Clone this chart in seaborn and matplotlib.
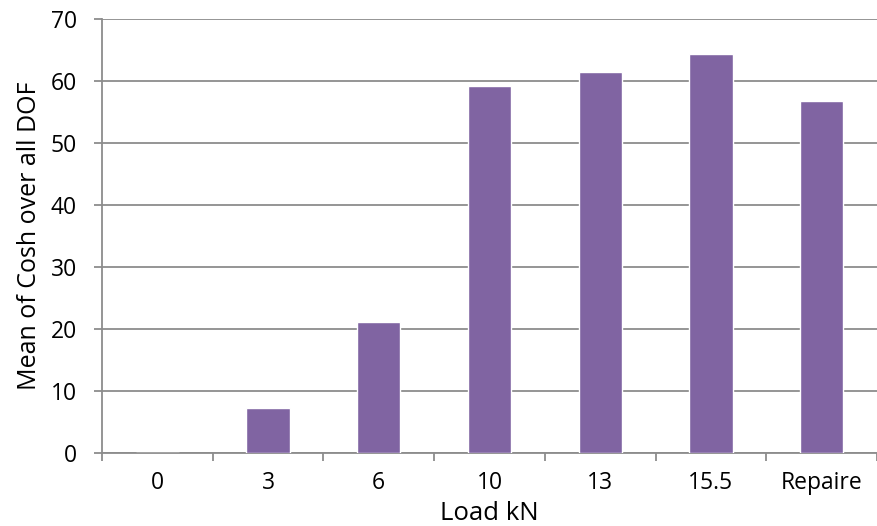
import matplotlib
matplotlib.use("Agg")
import matplotlib.pyplot as plt
import seaborn as sns
import pandas as pd
import numpy as np

categories = ["0", "3", "6", "10", "13", "15.5", "Repaire"]
values = [0.0, 7.3, 21.2, 59.2, 61.5, 64.4, 56.7]
yticks = [0, 10, 20, 30, 40, 50, 60, 70]

sns.set_theme(style="white")
plt.rcParams['font.family'] = ['Open Sans', 'DejaVu Sans']

df = pd.DataFrame({"Load": categories, "Mean": values})

fig = plt.figure(figsize=(8.77, 5.26), dpi=100)
ax = fig.add_axes([102/877, 1-453/526, 1-102/877, (453-19)/526])

sns.barplot(data=df, x="Load", y="Mean", color="#8064A2", width=0.39,
            edgecolor="white", linewidth=1.0, saturation=1, ax=ax, zorder=3)

ax.set_xlim(-0.5, len(categories) - 0.5)
ax.set_ylim(0, 70)
ax.set_yticks(yticks)
ax.yaxis.grid(True, color="#8c8c8c", linewidth=1.3, zorder=0)
ax.set_axisbelow(True)

for s in ["top", "right"]:
    ax.spines[s].set_visible(False)
for s in ["left", "bottom"]:
    ax.spines[s].set_color("#8c8c8c")
    ax.spines[s].set_linewidth(1.3)

ax.tick_params(axis="y", which="major", length=6, width=1.3, color="#8c8c8c",
               labelsize=16.5, pad=12, left=True)
ax.tick_params(axis="x", which="major", length=0, labelsize=16.5, pad=13)
ax.set_xticks(np.arange(-0.5, len(categories), 1.0), minor=True)
ax.tick_params(axis="x", which="minor", length=6, width=1.3, color="#8c8c8c",
               bottom=True, direction="out")

ax.set_xlabel("Load kN", fontsize=18.5, color="black", va="bottom")
ax.xaxis.set_label_coords(0.5 * (102 + 877) / 877, 0.0, transform=fig.transFigure)
ax.set_ylabel("Mean of Cosh over all DOF", fontsize=18, labelpad=6, color="black")
for lab in ax.get_xticklabels() + ax.get_yticklabels():
    lab.set_color("black")

fig.savefig("out.png", dpi=100)
